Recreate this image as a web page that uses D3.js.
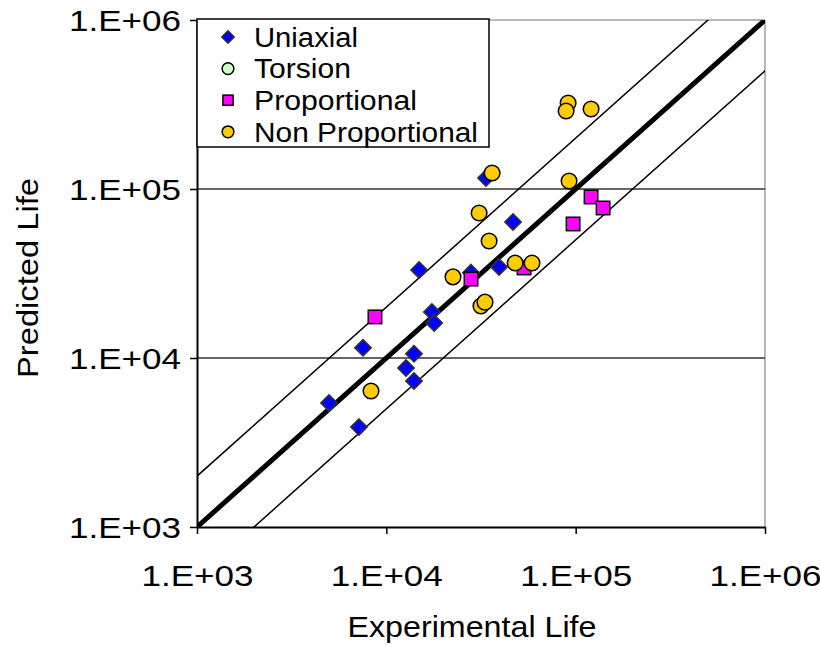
<!DOCTYPE html>
<html>
<head>
<meta charset="utf-8">
<script src="https://cdn.jsdelivr.net/npm/d3@7"></script>
<style>
  html, body { margin: 0; padding: 0; background: #fff; }
  svg { display: block; }
  text { font-family: "Liberation Sans", Arial, sans-serif; fill: #000; }
</style>
</head>
<body>
<svg id="chart" width="820" height="647"></svg>
<script>
// ---- data ----
const seriesNames = ["Uniaxial", "Torsion", "Proportional", "Non Proportional"];
const tickValues = [1e3, 1e4, 1e5, 1e6];
const tickLabels = ["1.E+03", "1.E+04", "1.E+05", "1.E+06"];

const uniaxialExp  = [4980, 7170, 7530, 12700, 14000, 14000, 17400, 17900, 14900, 28000, 33600, 39400, 46700];
const uniaxialPred = [5420, 3900, 11500, 8730, 10600, 7310, 18700, 16100, 33200, 32000, 116000, 34600, 63800];

const torsionExp  = [];
const torsionPred = [];

const proportionalExp  = [8710, 28000, 53400, 96900, 120600, 139600];
const proportionalPred = [17500, 29300, 34100, 62100, 89700, 77200];

const nonPropExp  = [8300, 22500, 30900, 34900, 36200, 31600, 33200, 47900, 58800, 91200, 89000, 120600, 92300];
const nonPropPred = [6380, 30200, 72100, 49200, 124400, 20300, 21400, 36500, 36500, 322800, 289500, 297400, 111500];

// scatter bands: y = x, y = 2x, y = x/2
const bandFactors = [1, 2, 0.5];

// ---- layout ----
const svg = d3.select("#chart");
const pLeft = 197, pRight = 765, pTop = 20, pBottom = 527;

const x = d3.scaleLog().domain([1e3, 1e6]).range([pLeft, pRight]);
const y = d3.scaleLog().domain([1e3, 1e6]).range([pBottom, pTop]);

// clip
svg.append("defs").append("clipPath").attr("id", "plotclip")
  .append("rect").attr("x", pLeft).attr("y", pTop).attr("width", pRight - pLeft).attr("height", pBottom - pTop);

// plot border (top & right grey)
svg.append("line").attr("x1", pLeft).attr("x2", pRight).attr("y1", pTop).attr("y2", pTop)
  .attr("stroke", "#a0a0a0").attr("stroke-width", 1.5);
svg.append("line").attr("x1", pRight).attr("x2", pRight).attr("y1", pTop).attr("y2", pBottom)
  .attr("stroke", "#a0a0a0").attr("stroke-width", 1.5);

// gridlines
svg.append("g").selectAll("line").data(tickValues.slice(1, 3)).join("line")
  .attr("x1", pLeft).attr("x2", pRight)
  .attr("y1", d => y(d)).attr("y2", d => y(d))
  .attr("stroke", "#333").attr("stroke-width", 1.6);

// diagonal lines
const lineG = svg.append("g").attr("clip-path", "url(#plotclip)");
bandFactors.forEach((f, i) => {
  lineG.append("line")
    .attr("x1", x(1e3 / 10)).attr("y1", y(1e3 / 10 * f))
    .attr("x2", x(1e7)).attr("y2", y(1e7 * f))
    .attr("stroke", "#000").attr("stroke-width", i === 0 ? 5 : 1.5);
});

// axes
const xAxis = d3.axisBottom(x).tickValues(tickValues).tickFormat((d, i) => tickLabels[i]).tickSize(7).tickSizeOuter(0);
const yAxis = d3.axisLeft(y).tickValues(tickValues).tickFormat((d, i) => tickLabels[i]).tickSize(7).tickSizeOuter(0);

const gx = svg.append("g").attr("transform", `translate(0,${pBottom})`).call(xAxis);
const gy = svg.append("g").attr("transform", `translate(${pLeft},0)`).call(yAxis);
[gx, gy].forEach(g => {
  g.select(".domain").attr("stroke", "#000").attr("stroke-width", 2);
  g.selectAll(".tick line").attr("stroke", "#000").attr("stroke-width", 1.5);
  g.selectAll(".tick text").style("font-family", "Liberation Sans, Arial, sans-serif")
    .style("font-size", "29px").attr("fill", "#000")
    .attr("textLength", 112).attr("lengthAdjust", "spacingAndGlyphs");
});
gx.selectAll(".tick text").attr("dy", null).attr("y", 59);
gy.selectAll(".tick text").attr("x", -16).attr("dy", "0.36em");

// axis titles
svg.append("text").attr("x", 472).attr("y", 637).attr("text-anchor", "middle")
  .style("font-size", "29px").attr("textLength", 249).attr("lengthAdjust", "spacingAndGlyphs")
  .text("Experimental Life");
svg.append("text").attr("transform", "translate(38,278) rotate(-90)").attr("text-anchor", "middle")
  .style("font-size", "29px").attr("textLength", 200).attr("lengthAdjust", "spacingAndGlyphs")
  .text("Predicted Life");

// markers
const styles = {
  "Uniaxial": { shape: "diamond", fill: "#0000FF", stroke: "#333333" },
  "Torsion": { shape: "circle", fill: "#CCFFCC", stroke: "#000000" },
  "Proportional": { shape: "square", fill: "#FF00FF", stroke: "#000000" },
  "Non Proportional": { shape: "circle", fill: "#FFCC00", stroke: "#000000" }
};
function drawMarker(g, shape, cx, cy, s, st) {
  if (shape === "diamond") {
    g.append("path").attr("d", `M${cx},${cy - s}L${cx + s},${cy}L${cx},${cy + s}L${cx - s},${cy}Z`)
      .attr("fill", st.fill).attr("stroke", st.stroke).attr("stroke-width", 1.5);
  } else if (shape === "square") {
    g.append("rect").attr("x", cx - s * 0.82).attr("y", cy - s * 0.82).attr("width", s * 1.64).attr("height", s * 1.64)
      .attr("fill", st.fill).attr("stroke", st.stroke).attr("stroke-width", 1.5);
  } else {
    g.append("circle").attr("cx", cx).attr("cy", cy).attr("r", s * 0.95)
      .attr("fill", st.fill).attr("stroke", st.stroke).attr("stroke-width", 1.5);
  }
}
const series = [
  ["Uniaxial", uniaxialExp, uniaxialPred],
  ["Torsion", torsionExp, torsionPred],
  ["Proportional", proportionalExp, proportionalPred],
  ["Non Proportional", nonPropExp, nonPropPred]
];
const ptG = svg.append("g");
series.forEach(([name, xs, ys]) => {
  const st = styles[name];
  xs.forEach((v, i) => drawMarker(ptG, st.shape, x(v), y(ys[i]), 8.2, st));
});

// legend
const lg = svg.append("g");
lg.append("rect").attr("x", 197).attr("y", 19).attr("width", 292).attr("height", 128)
  .attr("fill", "#fff").attr("stroke", "#000").attr("stroke-width", 1.5);
const legendWidths = [104, 97, 163, 224];
seriesNames.forEach((n, i) => {
  const cy = 37 + i * 31.6;
  drawMarker(lg, styles[n].shape, 228, cy, 6.2, styles[n]);
  lg.append("text").attr("x", 254).attr("y", cy).attr("dy", "0.36em")
    .style("font-size", "27px").attr("textLength", legendWidths[i]).attr("lengthAdjust", "spacingAndGlyphs")
    .text(n);
});
</script>
</body>
</html>
